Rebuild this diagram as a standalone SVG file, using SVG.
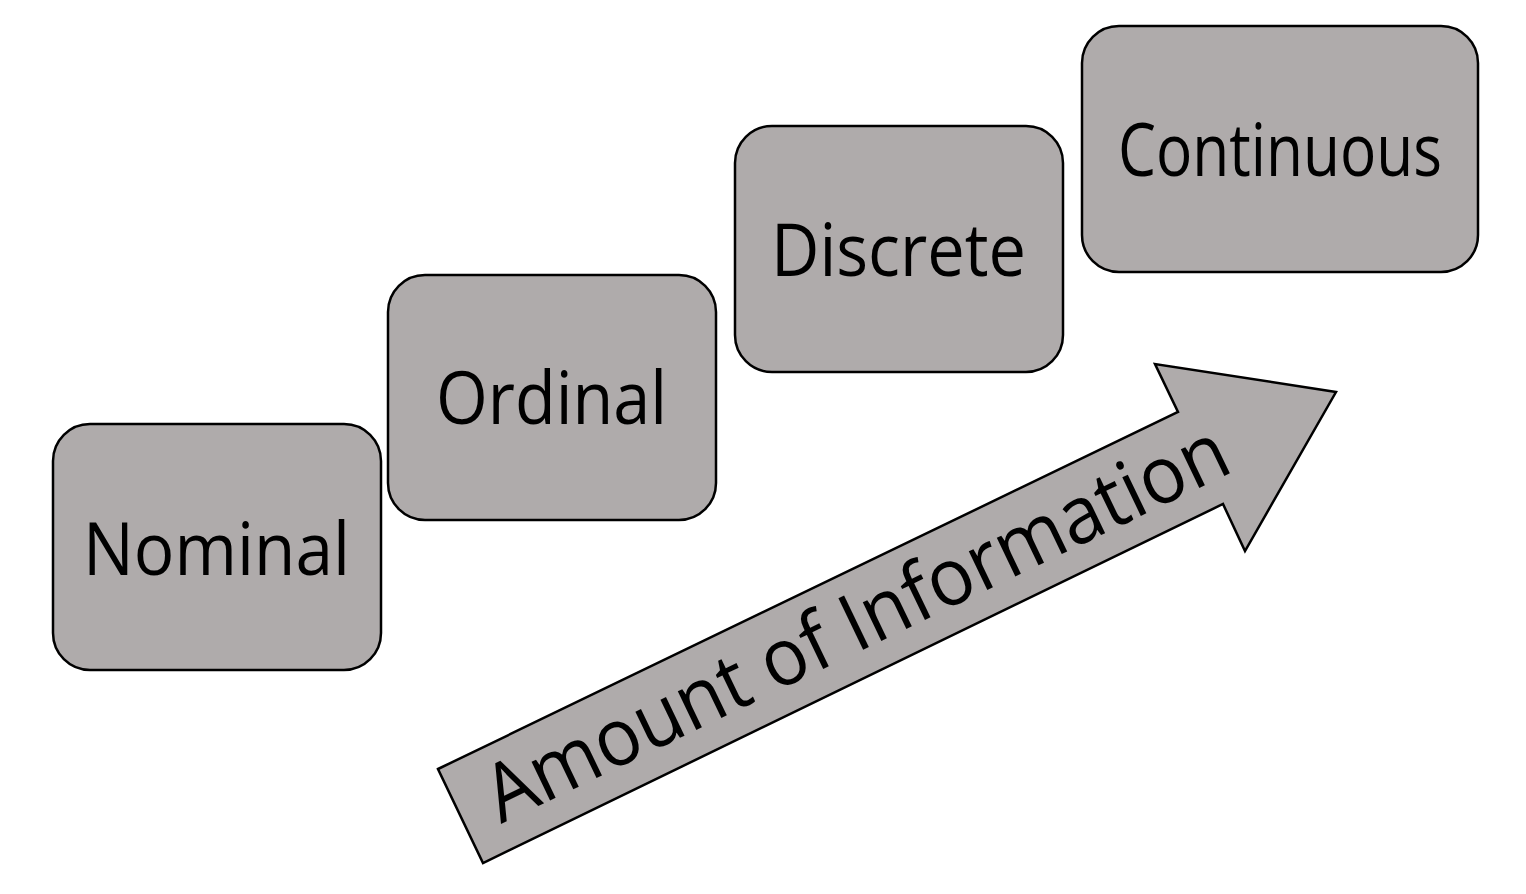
<svg xmlns="http://www.w3.org/2000/svg" width="1526" height="894" viewBox="0 0 1526 894">
<style>
.box{fill:#afabab;stroke:#000;stroke-width:2.5}
.lbl{font-family:"Open Sans","Liberation Sans",sans-serif;font-size:74px;fill:#000;text-anchor:middle}
.big{font-size:80px}
</style>
<rect width="1526" height="894" fill="#fff"/>
<g id="connectors">
<g id="arrow">
<polygon class="box" points="438,769 1178,412 1155,364 1336,392 1245,551 1223,504 483,863"/>
<text class="lbl big" x="0" y="0" transform="translate(856,622) rotate(-25.7)" dy="28" textLength="815" lengthAdjust="spacingAndGlyphs">Amount of Information</text>
</g>
</g>
<g id="nominal">
<rect class="box" x="53" y="424" width="328" height="246" rx="37"/>
<text class="lbl" x="216.5" y="575" textLength="267" lengthAdjust="spacingAndGlyphs">Nominal</text>
</g>
<g id="ordinal">
<rect class="box" x="388" y="275" width="328" height="245" rx="37"/>
<text class="lbl" x="551.5" y="424" textLength="231" lengthAdjust="spacingAndGlyphs">Ordinal</text>
</g>
<g id="discrete">
<rect class="box" x="735" y="126" width="328" height="246" rx="37"/>
<text class="lbl" x="898.5" y="276" textLength="255" lengthAdjust="spacingAndGlyphs">Discrete</text>
</g>
<g id="continuous">
<rect class="box" x="1082" y="26" width="396" height="246" rx="37"/>
<text class="lbl" x="1280" y="176" textLength="324" lengthAdjust="spacingAndGlyphs">Continuous</text>
</g>
</svg>
